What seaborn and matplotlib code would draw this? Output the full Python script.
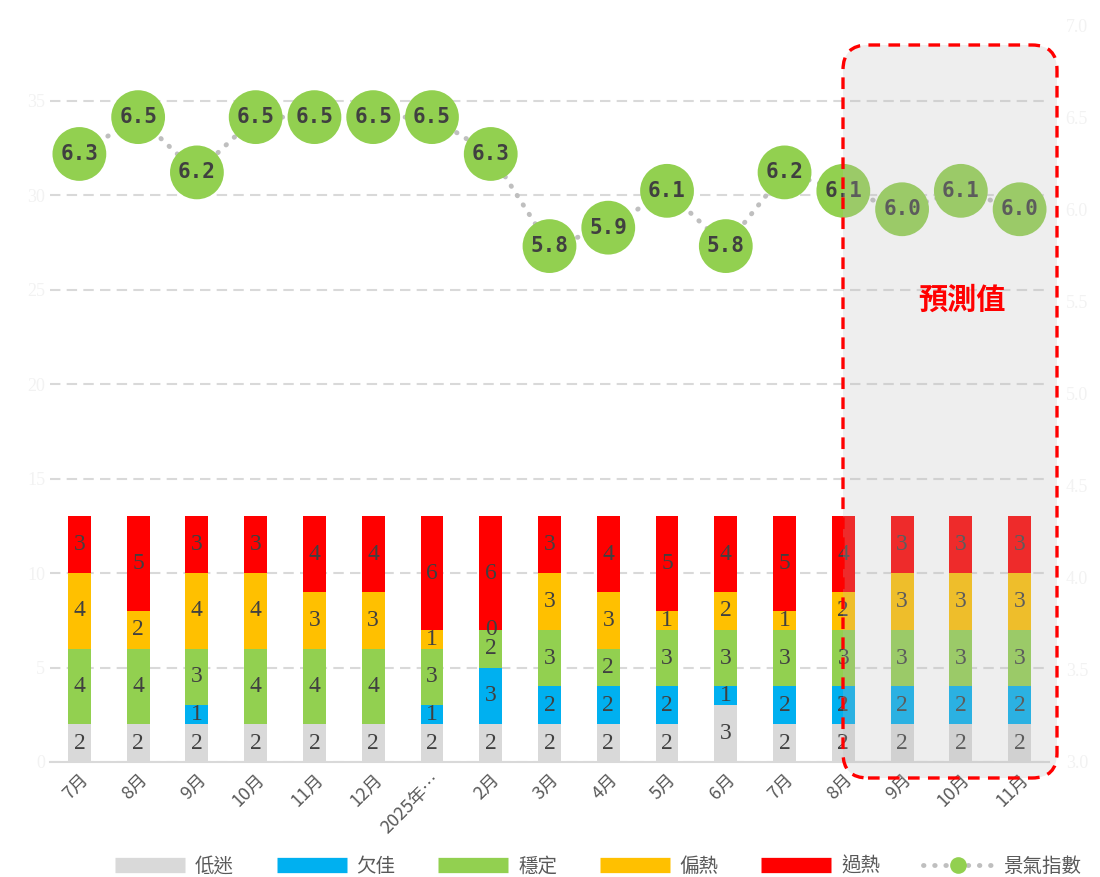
import numpy as np
import pandas as pd
import matplotlib
matplotlib.use("Agg")
import matplotlib.pyplot as plt
import seaborn as sns
from matplotlib.patches import FancyBboxPatch
from matplotlib.lines import Line2D

months = ["7月", "8月", "9月", "10月", "11月", "12月", "2025年…", "2月", "3月",
          "4月", "5月", "6月", "7月", "8月", "9月", "10月", "11月"]

# None = blank cell (no label), 0 = explicit zero
low = [2, 2, 2, 2, 2, 2, 2, 2, 2, 2, 2, 3, 2, 2, 2, 2, 2]
poor = [None, None, 1, None, None, None, 1, 3, 2, 2, 2, 1, 2, 2, 2, 2, 2]
stable = [4, 4, 3, 4, 4, 4, 3, 2, 3, 2, 3, 3, 3, 3, 3, 3, 3]
warm = [4, 2, 4, 4, 3, 3, 1, 0, 3, 3, 1, 2, 1, 2, 3, 3, 3]
hot = [3, 5, 3, 3, 4, 4, 6, 6, 3, 4, 5, 4, 5, 4, 3, 3, 3]
index_vals = [6.3, 6.5, 6.2, 6.5, 6.5, 6.5, 6.5, 6.3, 5.8, 5.9, 6.1, 5.8,
              6.2, 6.1, 6.0, 6.1, 6.0]

layers = [("低迷", low, "#D9D9D9"), ("欠佳", poor, "#00B0F0"),
          ("穩定", stable, "#92D050"), ("偏熱", warm, "#FFC000"),
          ("過熱", hot, "#FF0000")]

sns.set_theme(style="white")
plt.rcParams["font.family"] = ["Noto Sans CJK TC", "DejaVu Sans"]

fig = plt.figure(figsize=(11, 8.77), dpi=100)
ax = fig.add_axes([50 / 1100, 1 - 762 / 877, 999 / 1100, 737 / 877])

pos = np.arange(len(months))
vals = np.array([[0 if v is None else v for v in lay[1]] for lay in layers], dtype=float)
cum = vals.cumsum(axis=0)

# stacked bars: draw cumulative totals from the top layer down
for k in range(len(layers) - 1, -1, -1):
    df = pd.DataFrame({"pos": pos, "val": cum[k]})
    sns.barplot(data=df, x="pos", y="val", color=layers[k][2], saturation=1,
                width=0.39, errorbar=None, linewidth=0, ax=ax, zorder=2)

for k, (name, series, color) in enumerate(layers):
    bottoms = cum[k] - vals[k]
    for i, v in enumerate(series):
        if v is None:
            continue
        ax.text(i, bottoms[i] + v / 2, str(v), ha="center", va="center",
                color="#404040", fontsize=17, family="Liberation Serif", zorder=3)

ax.set_xlim(-0.5, len(months) - 0.5)
ax.set_ylim(0, 39)
ax.set_yticks(range(0, 40, 5))
ax.yaxis.grid(True, color="#D9D9D9", linestyle=(0, (5, 3)), linewidth=1.5)
ax.set_axisbelow(True)
ax.set_xticks(pos)
ax.set_xticklabels(months, rotation=45, ha="right", rotation_mode="anchor",
                   color="#595959", fontsize=13)
ax.tick_params(axis="both", length=0)
ax.tick_params(axis="x", pad=6)
for lab in ax.get_yticklabels():
    lab.set_color("#F2F2F2")
    lab.set_fontsize(13)
    lab.set_family("Liberation Serif")
ax.set_xlabel("")
ax.set_ylabel("")
for s in ["top", "left", "right"]:
    ax.spines[s].set_visible(False)
ax.spines["bottom"].set_color("#D9D9D9")
ax.spines["bottom"].set_linewidth(1.5)

# index line on the secondary axis
ax2 = ax.twinx()
idx_df = pd.DataFrame({"pos": pos, "idx": index_vals})
sns.lineplot(data=idx_df, x="pos", y="idx", color="#BFBFBF", linewidth=3.5,
             linestyle=(0, (0.1, 2.2)), dash_capstyle="round", ax=ax2, zorder=2)
sns.scatterplot(data=idx_df, x="pos", y="idx", s=1500, color="#92D050",
                edgecolor="none", ax=ax2, zorder=3)
for i, v in enumerate(index_vals):
    ax2.text(i, v, f"{v:.1f}", ha="center", va="center", color="#404040",
             fontsize=15, fontweight="bold", family="DejaVu Sans Mono", zorder=4)
ax2.set_ylim(3, 7)
ax2.set_yticks(np.arange(3, 7.01, 0.5))
ax2.set_yticklabels([f"{t:.1f}" for t in np.arange(3, 7.01, 0.5)],
                    color="#F2F2F2", fontsize=13, family="Liberation Serif")
ax2.tick_params(axis="y", length=0, pad=12)
ax2.set_xlim(-0.5, len(months) - 0.5)
ax2.set_xlabel("")
ax2.set_ylabel("")
ax2.grid(False)
for s in ax2.spines.values():
    s.set_visible(False)

# forecast box
fw, fh = 1100, 877
box = FancyBboxPatch((843 / fw, 1 - 778 / fh), 214 / fw, 733 / fh,
                     boxstyle="round,pad=0,rounding_size=0.0227",
                     mutation_aspect=fw / fh, transform=fig.transFigure,
                     facecolor=(0.72, 0.72, 0.72, 0.24), edgecolor="#FF0000",
                     linewidth=2.4, linestyle=(0, (3.5, 2.5)), zorder=5)
fig.add_artist(box)
fig.text(962 / fw, 1 - 300 / fh, "預測值", color="#FF0000", fontsize=21,
         fontweight="bold", ha="center", va="center", zorder=6)

# legend
handles = [Line2D([], [], color=c, linewidth=11, solid_capstyle="butt", label=n)
           for n, _, c in layers]
handles.append(Line2D([], [], color="#BFBFBF", linewidth=3.5, linestyle=(0, (0.1, 2.2)),
                      dash_capstyle="round", marker="o", markersize=12,
                      markerfacecolor="#92D050", markeredgecolor="none",
                      label="景氣指數"))
fig.legend(handles=handles, loc="center", bbox_to_anchor=(598 / fw, 1 - 866 / fh),
           ncol=6, frameon=False, fontsize=14, labelcolor="#595959",
           handlelength=3.6, handletextpad=0.5, columnspacing=2.2, numpoints=1)

fig.savefig("out.png", dpi=100)
